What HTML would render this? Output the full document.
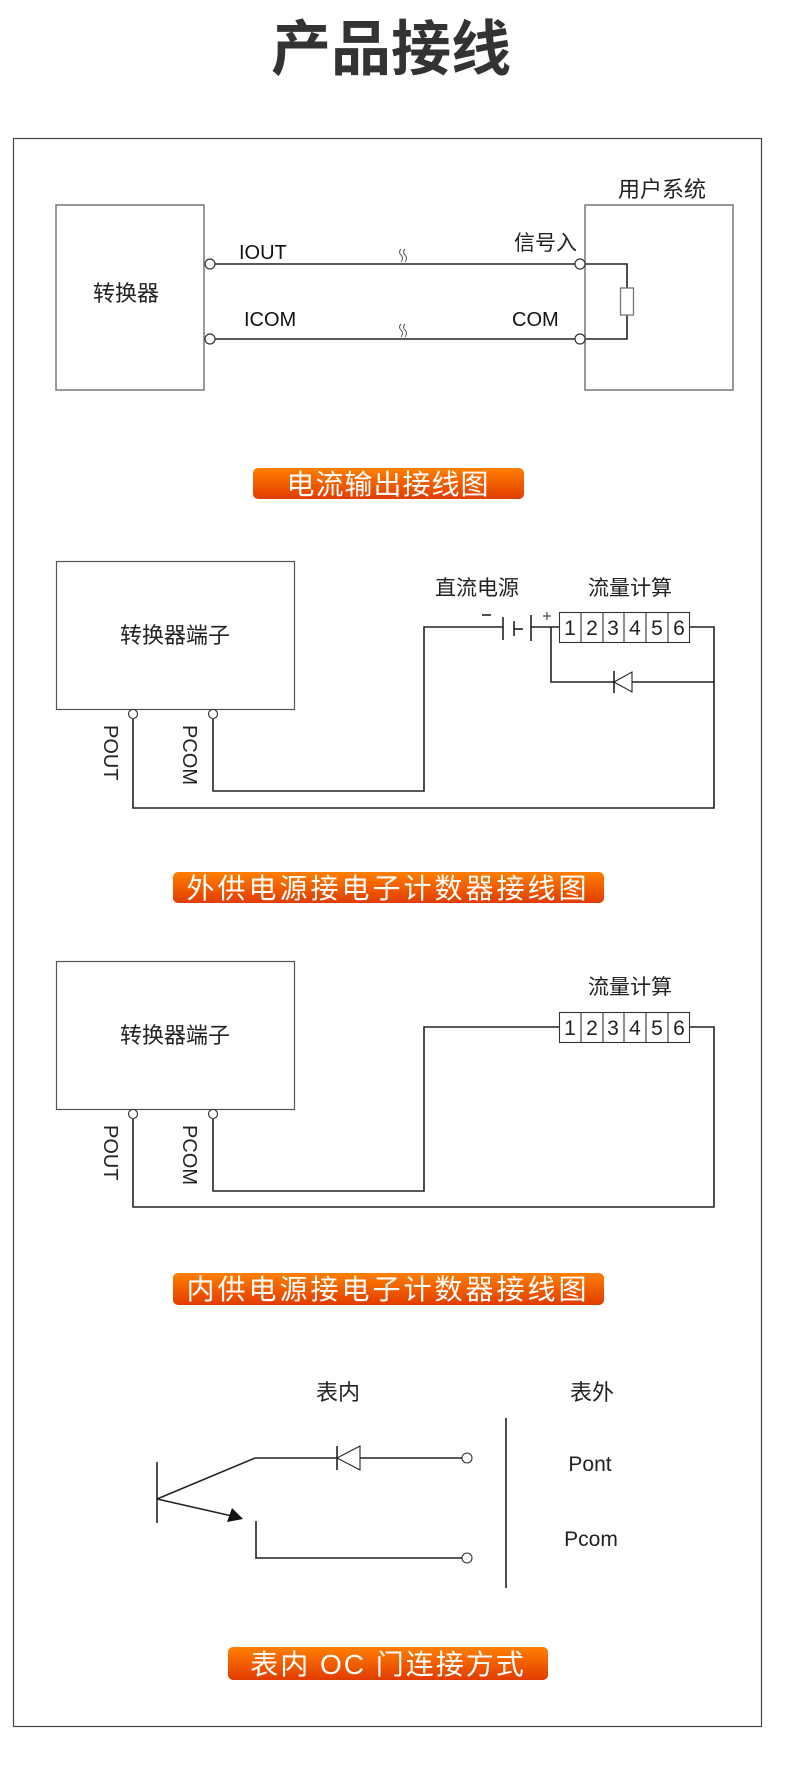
<!DOCTYPE html>
<html><head><meta charset="utf-8"><style>
html,body{margin:0;padding:0;background:#fff;}
svg{display:block;}
text{font-family:"Liberation Sans","Noto Sans CJK SC",sans-serif;}
</style></head><body>
<svg width="790" height="1785" viewBox="0 0 790 1785" xmlns="http://www.w3.org/2000/svg">
<defs>
<linearGradient id="g" x1="0" y1="0" x2="0" y2="1">
<stop offset="0" stop-color="#ff7f00"/><stop offset="1" stop-color="#e23c00"/>
</linearGradient>
</defs>
<text x="391" y="70" text-anchor="middle" font-size="60" font-weight="bold" fill="#333" font-family="'Noto Sans CJK SC',sans-serif">产品接线</text>
<rect x="13.5" y="138.5" width="748" height="1588" fill="none" stroke="#444" stroke-width="1.2"/>

<!-- Diagram 1 -->
<g fill="none" stroke="#777" stroke-width="1.5">
<rect x="56" y="205" width="148" height="185"/>
<rect x="585" y="205" width="148" height="185"/>
</g>
<text x="126" y="301" text-anchor="middle" font-size="22" fill="#222">转换器</text>
<text x="662" y="197" text-anchor="middle" font-size="22" fill="#222">用户系统</text>
<g stroke="#222" stroke-width="1.6" fill="none">
<line x1="215" y1="264" x2="575" y2="264"/>
<line x1="215" y1="339" x2="575" y2="339"/>
<polyline points="585,264 627,264 627,288"/>
<polyline points="585,339 627,339 627,315"/>
</g>
<rect x="620.5" y="288" width="13" height="27" fill="#fff" stroke="#777" stroke-width="1.3"/>
<g fill="#fff" stroke="#333" stroke-width="1.2">
<circle cx="210" cy="264" r="5"/><circle cx="210" cy="339" r="5"/>
<circle cx="580" cy="264" r="5"/><circle cx="580" cy="339" r="5"/>
</g>
<g stroke="#555" stroke-width="1" fill="none">
<path d="M401,249 q-3,3 0,6 q3,3 0,7 M405,249 q-3,3 0,6 q3,3 0,7"/>
<path d="M401,324 q-3,3 0,6 q3,3 0,7 M405,324 q-3,3 0,6 q3,3 0,7"/>
</g>
<text x="239" y="259" font-size="20" fill="#111">IOUT</text>
<text x="244" y="326" font-size="20" fill="#111">ICOM</text>
<text x="577" y="250" text-anchor="end" font-size="21" fill="#222">信号入</text>
<text x="512" y="326" font-size="20" fill="#111">COM</text>

<rect x="253" y="468" width="271" height="31" rx="5" fill="url(#g)"/>
<text x="388" y="494" text-anchor="middle" font-size="28" fill="#fff" letter-spacing="1">电流输出接线图</text>

<!-- Diagram 2 -->
<rect x="56.5" y="561.5" width="238" height="148" fill="none" stroke="#555" stroke-width="1.2"/>
<text x="175" y="643" text-anchor="middle" font-size="22" fill="#222">转换器端子</text>
<text x="477" y="595" text-anchor="middle" font-size="21" fill="#222">直流电源</text>
<text x="630" y="595" text-anchor="middle" font-size="21" fill="#222">流量计算</text>
<g stroke="#222" stroke-width="1.6" fill="none">
<polyline points="213,719 213,791 424,791 424,627 503,627"/>
<polyline points="133,719 133,808 714,808 714,627 689,627"/>
<line x1="503" y1="617" x2="503" y2="640"/>
<line x1="514" y1="621" x2="514" y2="636"/>
<line x1="514" y1="629" x2="523" y2="629"/>
<line x1="531" y1="615" x2="531" y2="641"/>
<line x1="531" y1="627" x2="559" y2="627"/>
<polyline points="551,627 551,682 614,682"/>
<line x1="632" y1="682" x2="714" y2="682"/>
<line x1="614" y1="671" x2="614" y2="693"/>
<line x1="482" y1="615" x2="491" y2="615"/>
<line x1="543" y1="616" x2="551" y2="616" stroke-width="1"/>
<line x1="547" y1="612" x2="547" y2="620" stroke-width="1"/>
</g>
<polygon points="614,682 632,672 632,692" fill="#fff" stroke="#222" stroke-width="1.1"/>
<g fill="#fff" stroke="#333" stroke-width="1.1">
<rect x="559.5" y="612.5" width="130" height="30"/>
<line x1="581" y1="612" x2="581" y2="642"/><line x1="603" y1="612" x2="603" y2="642"/>
<line x1="624" y1="612" x2="624" y2="642"/><line x1="646" y1="612" x2="646" y2="642"/>
<line x1="668" y1="612" x2="668" y2="642"/>
<circle cx="133" cy="714" r="4.5"/><circle cx="213" cy="714" r="4.5"/>
</g>
<g font-size="21" fill="#222" text-anchor="middle">
<text x="570" y="635">1</text><text x="592" y="635">2</text><text x="613" y="635">3</text><text x="635" y="635">4</text><text x="657" y="635">5</text><text x="679" y="635">6</text>
</g>
<text transform="translate(104,725) rotate(90)" font-size="20" fill="#222">POUT</text>
<text transform="translate(183,725) rotate(90)" font-size="20" fill="#222">PCOM</text>

<rect x="173" y="872" width="431" height="31" rx="5" fill="url(#g)"/>
<text x="388" y="898" text-anchor="middle" font-size="28" fill="#fff" letter-spacing="3">外供电源接电子计数器接线图</text>

<!-- Diagram 3 -->
<rect x="56.5" y="961.5" width="238" height="148" fill="none" stroke="#555" stroke-width="1.2"/>
<text x="175" y="1043" text-anchor="middle" font-size="22" fill="#222">转换器端子</text>
<text x="630" y="994" text-anchor="middle" font-size="21" fill="#222">流量计算</text>
<g stroke="#222" stroke-width="1.6" fill="none">
<polyline points="213,1119 213,1191 424,1191 424,1027 559,1027"/>
<polyline points="133,1119 133,1207 714,1207 714,1027 689,1027"/>
</g>
<g fill="#fff" stroke="#333" stroke-width="1.1">
<rect x="559.5" y="1012.5" width="130" height="30"/>
<line x1="581" y1="1012" x2="581" y2="1042"/><line x1="603" y1="1012" x2="603" y2="1042"/>
<line x1="624" y1="1012" x2="624" y2="1042"/><line x1="646" y1="1012" x2="646" y2="1042"/>
<line x1="668" y1="1012" x2="668" y2="1042"/>
<circle cx="133" cy="1114" r="4.5"/><circle cx="213" cy="1114" r="4.5"/>
</g>
<g font-size="21" fill="#222" text-anchor="middle">
<text x="570" y="1035">1</text><text x="592" y="1035">2</text><text x="613" y="1035">3</text><text x="635" y="1035">4</text><text x="657" y="1035">5</text><text x="679" y="1035">6</text>
</g>
<text transform="translate(104,1125) rotate(90)" font-size="20" fill="#222">POUT</text>
<text transform="translate(183,1125) rotate(90)" font-size="20" fill="#222">PCOM</text>

<rect x="173" y="1273" width="431" height="32" rx="5" fill="url(#g)"/>
<text x="388" y="1299" text-anchor="middle" font-size="28" fill="#fff" letter-spacing="3">内供电源接电子计数器接线图</text>

<!-- Diagram 4 -->
<text x="338" y="1400" text-anchor="middle" font-size="22" fill="#222">表内</text>
<text x="592" y="1400" text-anchor="middle" font-size="22" fill="#222">表外</text>
<text x="590" y="1471" text-anchor="middle" font-size="21" fill="#222">Pont</text>
<text x="591" y="1546" text-anchor="middle" font-size="21" fill="#222">Pcom</text>
<g stroke="#222" stroke-width="1.6" fill="none">
<line x1="506" y1="1418" x2="506" y2="1588"/>
<line x1="157" y1="1462" x2="157" y2="1523"/>
<polyline points="157,1499 255,1458 337,1458"/>
<line x1="360" y1="1458" x2="462" y2="1458"/>
<line x1="337" y1="1446" x2="337" y2="1470"/>
<line x1="157" y1="1499" x2="232" y2="1516"/>
<polyline points="256,1521 256,1558 462,1558"/>
</g>
<polygon points="337,1458 360,1446 360,1470" fill="#fff" stroke="#222" stroke-width="1.1"/>
<polygon points="243,1519 227,1522 232,1508" fill="#111"/>
<g fill="#fff" stroke="#333" stroke-width="1.1">
<circle cx="467" cy="1458" r="5"/><circle cx="467" cy="1558" r="5"/>
</g>

<rect x="228" y="1647" width="320" height="33" rx="5" fill="url(#g)"/>
<text x="388" y="1674" text-anchor="middle" font-size="28" fill="#fff" letter-spacing="2">表内 OC 门连接方式</text>
</svg>
</body></html>
